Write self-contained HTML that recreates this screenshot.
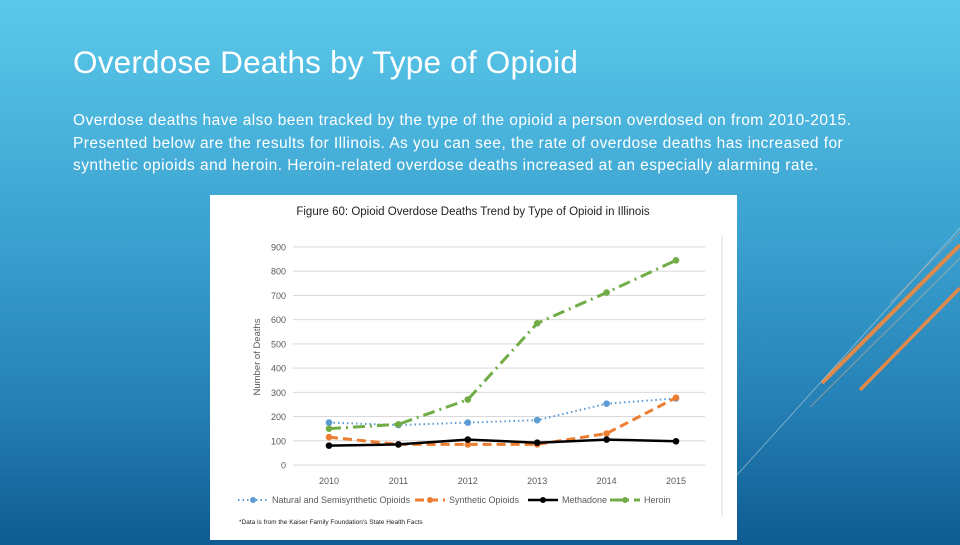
<!DOCTYPE html>
<html><head><meta charset="utf-8"><style>
html,body{margin:0;padding:0;background:#0f5c92}
body{width:960px;height:540px;overflow:hidden;position:relative;background:linear-gradient(180deg,#5bc9ea 0%,#3aa0cf 45%,#2580b5 75%,#0f5c92 100%);font-family:"Liberation Sans",sans-serif}
#title{position:absolute;left:73px;top:44px;font-size:31.5px;color:#fff;font-weight:300;letter-spacing:0.2px;white-space:nowrap}
#body{position:absolute;left:73px;top:110px;font-size:15.5px;line-height:22.5px;color:#fff;white-space:nowrap;letter-spacing:0.45px}
#panel{position:absolute;left:210px;top:195px;width:527px;height:345px;background:#fff}
</style></head><body>
<svg width="960" height="540" style="position:absolute;left:0;top:0">
<line x1="822" y1="383" x2="960" y2="245" stroke="#e0894a" stroke-width="4"/>
<line x1="860" y1="390" x2="960" y2="288" stroke="#e0894a" stroke-width="3.5"/>
<line x1="737" y1="475" x2="960" y2="228" stroke="#b8d4e0" stroke-width="0.8" opacity="0.7"/>
<line x1="810" y1="407" x2="960" y2="258" stroke="#d8b090" stroke-width="0.8" opacity="0.7"/>
<line x1="890" y1="303" x2="960" y2="232" stroke="#d8a080" stroke-width="0.8" opacity="0.6"/>
</svg>
<div id="title">Overdose Deaths by Type of Opioid</div>
<div id="body">Overdose deaths have also been tracked by the type of the opioid a person overdosed on from 2010-2015.<br>Presented below are the results for Illinois. As you can see, the rate of overdose deaths has increased for<br>synthetic opioids and heroin. Heroin-related overdose deaths increased at an especially alarming rate.</div>
<div id="panel">
<svg id="chart" width="527" height="345"></svg>
</div>
<script>
const years=["2010","2011","2012","2013","2014","2015"];
const yTicks=[0,100,200,300,400,500,600,700,800,900];
const natural=[175,165,175,185,253,275];
const synthetic=[115,85,85,85,130,278];
const methadone=[80,85,105,92,105,98];
const heroin=[150,168,270,585,712,845];
const NS="http://www.w3.org/2000/svg";
const svg=document.getElementById('chart');
const X0=119,DX=69.4,Y0=270,YS=218/900;
function xs(i){return X0+i*DX;}
function ys(v){return Y0-v*YS;}
function mk(t,a,p){const e=document.createElementNS(NS,t);for(const k in a)e.setAttribute(k,a[k]);(p||svg).appendChild(e);return e;}
let t=mk('text',{x:263,y:20,'font-size':11.5,fill:'#222','text-anchor':'middle'});


t.textContent='Figure 60: Opioid Overdose Deaths Trend by Type of Opioid in Illinois';
mk('line',{x1:512,y1:40,x2:512,y2:322,stroke:'#ddd'});
yTicks.forEach(v=>{
 const g=mk('line',{x1:83,x2:495,y1:ys(v),y2:ys(v),stroke:'#d9d9d9','stroke-width':1});
 
 
 const l=mk('text',{x:76,y:ys(v)+3.5,'font-size':9,fill:'#595959','text-anchor':'end'});
 
 
 l.textContent=v;
});
years.forEach((y,i)=>{
 const l=mk('text',{x:xs(i),y:289,'font-size':9,fill:'#595959','text-anchor':'middle'});
 
 
 l.textContent=y;
});
const yt=mk('text',{x:0,y:0,'font-size':9.5,fill:'#595959','text-anchor':'middle',transform:'translate(50,162) rotate(-90)'});


yt.textContent='Number of Deaths';
const series=[
 {name:'natural-series',data:natural,color:'#5b9bd5',dash:'1.5 3',w:2},
 {name:'synthetic-series',data:synthetic,color:'#ed7d31',dash:'9 5',w:3},
 {name:'methadone-series',data:methadone,color:'#000',dash:'',w:2.5},
 {name:'heroin-series',data:heroin,color:'#70ad47',dash:'12 5 2 5',w:3}
];
series.forEach(s=>{
 const pts=s.data.map((v,i)=>xs(i)+','+ys(v)).join(' ');
 const p=mk('polyline',{points:pts,fill:'none',stroke:s.color,'stroke-width':s.w,'stroke-dasharray':s.dash});
 
 
 s.data.forEach((v,i)=>{
  const c=mk('circle',{cx:xs(i),cy:ys(v),r:3.3,fill:s.color});
  
  
 });
});
const leg=[['Natural and Semisynthetic Opioids',0,'#5b9bd5','1.5 3',2,58],['Synthetic Opioids',1,'#ed7d31','9 5',3,235],['Methadone',2,'#000','',2.5,348],['Heroin',3,'#70ad47','12 5 2 5',3,430]];
leg.forEach(L=>{
 const g=mk('g',{});
 
 
 mk('line',{x1:L[5]-30,x2:L[5],y1:305,y2:305,stroke:L[2],'stroke-width':L[4],'stroke-dasharray':L[3]},g);
 mk('circle',{cx:L[5]-15,cy:305,r:3,fill:L[2]},g);
 const tx=mk('text',{x:L[5]+4,y:308,'font-size':9,fill:'#595959'},g);
 tx.textContent=L[0];
});
const fn=mk('text',{x:29,y:329,'font-size':6.5,fill:'#222'});


fn.textContent="*Data is from the Kaiser Family Foundation's State Health Facts";
</script>
</body></html>
